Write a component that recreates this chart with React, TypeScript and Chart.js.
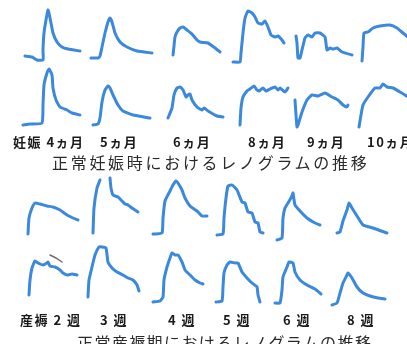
import React, { useEffect, useRef } from "react";
import { Chart, registerables } from "chart.js";

Chart.register(...registerables);

type Pt = [number, number | null];

// Renogram traces: time (half-minute steps) against count rate (relative units)

// Pregnancy, upper row (4, 5, 6, 8, 9, 10 months)
const preg4Upper: Pt[] = [[2.5, 8], [6, 7], [8.5, 4], [11.5, 4], [11.5, 14], [12, 31], [13, 44], [14, 54], [14.5, 51], [15.5, 41], [16.5, 31], [18.5, 22], [21, 17], [24, 15], [30, 13]];
const preg5Upper: Pt[] = [[2.5, 6], [6, 6], [7, 8], [8, 17], [9.5, 31], [11, 42], [12, 46], [13, 42], [14.5, 31], [17, 22], [20.5, 17], [25.5, 13], [33, 11]];
const preg6Upper: Pt[] = [[4.5, 9], [5, 18], [5.5, 27], [6.5, 32], [8, 36], [9.5, 37], [11.5, 34], [14, 30], [16.5, 24], [18, 22], [22, 21], [25.5, 16], [28, 12]];
const preg8Upper: Pt[] = [[2.5, 2], [6, 2], [6.5, 11], [7.5, 31], [8.5, 46], [10, 53], [12, 51], [13.5, 47], [15, 41], [17, 40], [18.5, 43], [20, 37], [21.5, 29], [23.5, 27], [25, 28], [27, 24], [28, 21]];
const preg9Upper: Pt[] = [[3, 28], [3.5, 21], [4, 6], [5, 6], [6, 14], [7.5, 26], [9, 29], [11, 27], [12.5, 31], [15, 31], [17.5, 27], [18.5, 14], [20, 16], [21.5, 15], [23.5, 16], [26, 12], [31, 9]];
const preg10Upper: Pt[] = [[4, 3], [4.5, 17], [5, 31], [7, 32], [9.5, 36], [13, 38], [18, 39], [21.5, 36], [24.5, 31], [27, 27], [29, 24]];

// Pregnancy, lower row
const preg4Lower: Pt[] = [[1.5, 3], [5, 4], [11, 5], [11.5, 23], [12, 43], [13.5, 55], [14.5, 59], [16, 53], [16.5, 40], [18, 28], [20, 21], [23.5, 18], [26, 15], [30, 13]];
const preg5Lower: Pt[] = [[3.5, 3], [6, 4], [7, 10], [8, 26], [9.5, 38], [11, 42], [12, 40], [13.5, 33], [16, 23], [18.5, 17], [23.5, 13], [32, 10]];
const preg6Lower: Pt[] = [[2, 10], [4, 20], [5, 33], [6.5, 40], [8, 41], [9.5, 38], [11, 31], [12, 33], [13, 34], [14, 28], [16.5, 21], [19, 18], [20, 20], [22, 17], [26.5, 12], [29.5, 11]];
const preg8Lower: Pt[] = [[6, 3], [6.5, 20], [7.5, 31], [9.5, 37], [11, 39], [13, 42], [14.5, 38], [15.5, 37], [17.5, 40], [19, 37], [21, 39], [23.5, 41], [25, 38], [26, 40], [28.5, 36], [30, 40]];
const preg9Lower: Pt[] = [[2.5, 28], [3, 13], [3.5, 1], [4, 3], [6, 16], [8.5, 28], [11, 33], [14, 32], [17.5, 35], [21, 31], [24, 28], [26.5, 23], [28.5, 21], [29, 23]];
const preg10Lower: Pt[] = [[2.5, 1], [3.5, 13], [4.5, 23], [7, 31], [10.5, 40], [13, 40], [14.5, 44], [16.5, 41], [19.5, 40], [23, 36], [25.5, 33], [27, 31]];

// Puerperium, upper row (2, 3, 4, 5, 6, 8 weeks)
const post2Upper: Pt[] = [[4, 6], [4.5, 22], [6, 32], [7.5, 37], [10, 36], [13.5, 34], [16.5, 33], [20, 30], [23.5, 25], [26.5, 22], [29, 20]];
const post3Upper: Pt[] = [[4.5, 7], [5, 32], [6.5, 52], [8, 60], [10.5, null], [13, 62], [13.5, 52], [14.5, 45], [17, 43], [19, 39], [20.5, 36], [22, 35], [24, 32], [27, 28]];
const post4Upper: Pt[] = [[1.5, 6], [6, 7], [6.5, 22], [7.5, 39], [10, 49], [11.5, 55], [13, 59], [14, 57], [16, 50], [17.5, 42], [20, 34], [23.5, 29], [26, 24], [28.5, 24]];
const post5Upper: Pt[] = [[2.5, 5], [5.5, 6], [6, 22], [7, 42], [8, 54], [10, 55], [12.5, 50], [15, 38], [16.5, 37], [18, 28], [20, 27], [21.5, 18], [23, 17], [24, 8], [25.5, 7]];
const post6Upper: Pt[] = [[2.5, 0], [5, 2], [5.5, 22], [6.5, 32], [8, 37], [10, 44], [10.5, 47], [11.5, 35], [14, 29], [17.5, 22], [21.5, 17], [24, 15]];
const post8Upper: Pt[] = [[2.5, 7], [4, 8], [5.5, 19], [7.5, 30], [8.5, 37], [10, 32], [12.5, 24], [15.5, 15], [20.5, 12], [27.5, 7]];

// Puerperium, lower row
const post2Lower: Pt[] = [[4.5, 13], [5, 28], [6, 40], [7.5, 47], [9, 45], [11.5, 43], [13.5, 45], [14, 46], [15, 42], [17.5, 41], [20, 38], [21.5, 35], [23.5, 33], [26, 34], [28.5, 33]];
const post2Pencil: Pt[] = [[15, 53], [18, 50], [21, 46]];
const post3Lower: Pt[] = [[2, 11], [2.5, 28], [4, 41], [5.5, 53], [7.5, 61], [9, 61], [11, 60], [12, 46], [14, 40], [16.5, 36], [19.5, 33], [22, 30], [24.5, 28], [26.5, 23], [27.5, 17]];
const post4Lower: Pt[] = [[1.5, 6], [5, 7], [6.5, 11], [7, 28], [8.5, 41], [10, 50], [11, 55], [12.5, 53], [14, 53], [16, 46], [17.5, 38], [20, 33], [22.5, 28], [25, 25], [26.5, 24]];
const post5Lower: Pt[] = [[2, 6], [5, 7], [5.5, 21], [6, 35], [7.5, 43], [9, 46], [11.5, 45], [13, 45], [15, 36], [17.5, 30], [20, 25], [22.5, 21], [23, 13], [24, 6]];
const post6Lower: Pt[] = [[1.5, 5], [4, 5], [5, 18], [5.5, 31], [7.5, 41], [8.5, 46], [10.5, 45], [11.5, 36], [14, 28], [17.5, 23], [21.5, 19], [24.5, 14]];
const post8Lower: Pt[] = [[0, 3], [2.5, 5], [4, 15], [5.5, 25], [7.5, 33], [8, 35], [10, 30], [12.5, 21], [15.5, 15], [19, 12], [23, 10], [26.5, 9]];

const pregnancyLabels = ["妊娠 4ヵ月", "5ヵ月", "6ヵ月", "8ヵ月", "9ヵ月", "10ヵ月"];
const postpartumLabels = ["産褥 2 週", "3 週", "4 週", "5 週", "6 週", "8 週"];
const pregnancyTitle = "正常妊娠時におけるレノグラムの推移";
const postpartumTitle = "正常産褥期におけるレノグラムの推移";

const pregnancyUpper = [preg4Upper, preg5Upper, preg6Upper, preg8Upper, preg9Upper, preg10Upper];
const pregnancyLower = [preg4Lower, preg5Lower, preg6Lower, preg8Lower, preg9Lower, preg10Lower];
const postpartumUpper = [post2Upper, post3Upper, post4Upper, post5Upper, post6Upper, post8Upper];
const postpartumLower = [post2Lower, post3Lower, post4Lower, post5Lower, post6Lower, post8Lower];

// Axis extents shared by every small panel
const T_MAX = 36;
const C_MAX = 64;

// Layout (px)
const PAD = 4;
const AREA_W = 72;
const AREA_H = 64;
const pregnancyCols = [20, 86, 164, 228, 290, 354];
const postpartumCols = [20, 84, 150, 212, 272, 332];
const pregnancyLabelLeft = [13, 100, 173, 248, 307, 367];
const postpartumLabelLeft = [20, 100, 168, 223, 283, 347];

const TRACE = "#3b89dc";
const PENCIL = "rgba(70,60,60,0.75)";
const LABEL_FONT = '"Noto Sans CJK JP", "Noto Sans", sans-serif';

type PanelProps = {
  trace: Pt[];
  extra?: Pt[];
  left: number;
  top: number;
};

function toXY(pts: Pt[]) {
  return pts.map(([x, y]) => ({ x, y }));
}

function Panel({ trace, extra, left, top }: PanelProps) {
  const ref = useRef<HTMLCanvasElement | null>(null);

  useEffect(() => {
    if (!ref.current) return;
    const datasets: any[] = [
      {
        data: toXY(trace),
        borderColor: TRACE,
        borderWidth: 3,
        borderCapStyle: "round",
        borderJoinStyle: "round",
        pointRadius: 0,
        tension: 0.15,
        spanGaps: false,
        clip: false,
      },
    ];
    if (extra) {
      datasets.push({
        data: toXY(extra),
        borderColor: PENCIL,
        borderWidth: 1.5,
        borderCapStyle: "round",
        pointRadius: 0,
        tension: 0,
        clip: false,
      });
    }
    const chart = new Chart(ref.current, {
      type: "line",
      data: { datasets },
      options: {
        animation: false,
        responsive: false,
        devicePixelRatio: 1,
        layout: { padding: PAD },
        scales: {
          x: { type: "linear", min: 0, max: T_MAX, display: false },
          y: { type: "linear", min: 0, max: C_MAX, display: false },
        },
        plugins: { legend: { display: false }, tooltip: { enabled: false } },
        events: [],
      },
    });
    return () => chart.destroy();
  }, [trace, extra]);

  return (
    <canvas
      ref={ref}
      width={AREA_W + PAD * 2}
      height={AREA_H + PAD * 2}
      style={{ position: "absolute", left: left - PAD, top: top - PAD, display: "block" }}
    />
  );
}

function Label({ text, left, centerY }: { text: string; left: number; centerY: number }) {
  return (
    <div
      style={{
        position: "absolute",
        left,
        top: centerY - 7,
        height: 14,
        lineHeight: "14px",
        fontFamily: LABEL_FONT,
        fontWeight: 700,
        fontSize: 13,
        letterSpacing: 1.5,
        color: "#1a1a1a",
        whiteSpace: "pre",
      }}
    >
      {text}
    </div>
  );
}

function Title({ text, left, top, spacing }: { text: string; left: number; top: number; spacing: number }) {
  return (
    <div
      style={{
        position: "absolute",
        left,
        top,
        lineHeight: "18px",
        fontFamily: LABEL_FONT,
        fontWeight: 400,
        fontSize: 16,
        letterSpacing: spacing,
        color: "#2a2a2a",
        whiteSpace: "pre",
      }}
    >
      {text}
    </div>
  );
}

export default function App() {
  return (
    <div
      style={{
        position: "absolute",
        left: 0,
        top: 0,
        width: 407,
        height: 344,
        overflow: "hidden",
        background: "#ffffff",
      }}
    >
      {pregnancyUpper.map((t, i) => (
        <Panel key={"pu" + i} trace={t} left={pregnancyCols[i]} top={0} />
      ))}
      {pregnancyLower.map((t, i) => (
        <Panel key={"pl" + i} trace={t} left={pregnancyCols[i]} top={64} />
      ))}
      {pregnancyLabels.map((s, i) => (
        <Label key={"plb" + i} text={s} left={pregnancyLabelLeft[i]} centerY={142} />
      ))}
      <Title text={pregnancyTitle} left={52} top={153} spacing={2.7} />

      {postpartumUpper.map((t, i) => (
        <Panel key={"qu" + i} trace={t} left={postpartumCols[i]} top={176} />
      ))}
      {postpartumLower.map((t, i) => (
        <Panel
          key={"ql" + i}
          trace={t}
          extra={i === 0 ? post2Pencil : undefined}
          left={postpartumCols[i]}
          top={244}
        />
      ))}
      {postpartumLabels.map((s, i) => (
        <Label key={"qlb" + i} text={s} left={postpartumLabelLeft[i]} centerY={320} />
      ))}
      <Title text={postpartumTitle} left={77} top={333} spacing={1.4} />
    </div>
  );
}
